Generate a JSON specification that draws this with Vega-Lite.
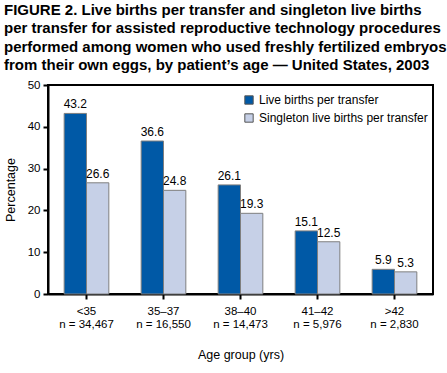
{
  "$schema": "https://vega.github.io/schema/vega-lite/v6.json",
  "width": 385,
  "height": 209,
  "autosize": {"type": "none"},
  "padding": {"left": 48, "top": 85, "right": 14, "bottom": 79},
  "background": "white",
  "title": {
    "text": ["FIGURE 2. Live births per transfer and singleton live births", "per transfer for assisted reproductive technology procedures", "performed among women who used freshly fertilized embryos", "from their own eggs, by patient’s age — United States, 2003"],
    "anchor": "start",
    "frame": "group",
    "dx": -44,
    "offset": 6,
    "font": "Liberation Sans",
    "fontSize": 15,
    "fontWeight": "bold",
    "lineHeight": 18.3,
    "color": "black"
  },
  "data": {
    "values": [
      {"group": "<35|n = 34,467", "series": "Live births per transfer", "value": 43.2},
      {"group": "<35|n = 34,467", "series": "Singleton live births per transfer", "value": 26.6},
      {"group": "35–37|n = 16,550", "series": "Live births per transfer", "value": 36.6},
      {"group": "35–37|n = 16,550", "series": "Singleton live births per transfer", "value": 24.8},
      {"group": "38–40|n = 14,473", "series": "Live births per transfer", "value": 26.1},
      {"group": "38–40|n = 14,473", "series": "Singleton live births per transfer", "value": 19.3},
      {"group": "41–42|n = 5,976", "series": "Live births per transfer", "value": 15.1},
      {"group": "41–42|n = 5,976", "series": "Singleton live births per transfer", "value": 12.5},
      {"group": ">42|n = 2,830", "series": "Live births per transfer", "value": 5.9},
      {"group": ">42|n = 2,830", "series": "Singleton live births per transfer", "value": 5.3}
    ]
  },
  "config": {
    "view": {"stroke": "black", "strokeWidth": 2},
    "font": "Liberation Sans",
    "axis": {"grid": false, "domainColor": "black", "domainWidth": 2, "tickColor": "black", "tickWidth": 2, "tickSize": 5, "labelColor": "black", "titleColor": "black", "labelFont": "Liberation Sans", "titleFont": "Liberation Sans", "labelFontSize": 11.5, "titleFontSize": 12.5, "titleFontWeight": "normal"}
  },
  "encoding": {
    "x": {
      "field": "group", "type": "nominal", "sort": null,
      "scale": {"paddingInner": 0.42, "paddingOuter": 0.21},
      "axis": {"title": "Age group (yrs)", "labelAngle": 0, "labelExpr": "split(datum.label, '|')", "labelPadding": 6, "labelLineHeight": 13, "titlePadding": 19}
    },
    "xOffset": {"field": "series", "type": "nominal", "sort": null},
    "y": {
      "field": "value", "type": "quantitative",
      "scale": {"domain": [0, 50]},
      "axis": {"title": "Percentage", "values": [0, 10, 20, 30, 40, 50], "labelPadding": 3, "titlePadding": 10}
    }
  },
  "layer": [
    {
      "mark": {"type": "bar", "stroke": "#7f7f7f", "strokeWidth": 1},
      "encoding": {
        "color": {
          "field": "series", "type": "nominal", "sort": null,
          "scale": {"range": ["#0059a6", "#c6d0e7"]},
          "legend": {"title": null, "orient": "none", "legendX": 195, "legendY": 9, "symbolType": "square", "symbolSize": 70, "symbolStrokeColor": "#555555", "symbolStrokeWidth": 1, "labelFontSize": 12, "labelColor": "black", "labelFont": "Liberation Sans", "labelLimit": 0, "rowPadding": 4, "symbolOffset": 0}
        }
      }
    },
    {
      "mark": {"type": "text", "baseline": "bottom", "dy": -2, "fontSize": 12, "color": "black", "font": "Liberation Sans"},
      "encoding": {"text": {"field": "value", "type": "quantitative", "format": ".1f"}}
    }
  ]
}
